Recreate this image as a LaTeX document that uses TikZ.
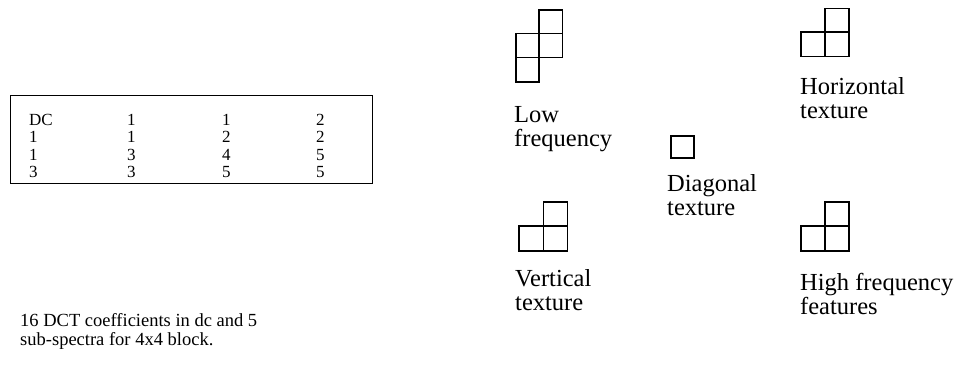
\documentclass[tikz,border=0pt]{standalone}
\usepackage{fontspec}
\setmainfont{Liberation Serif}
\begin{document}
\begin{tikzpicture}[x=1pt,y=-1pt,
  cell/.style={draw=black,line width=1.4pt},
  tbl/.style={anchor=base west,inner sep=0pt,font=\fontsize{17}{17}\selectfont},
  lbl/.style={anchor=north west,inner sep=0pt,align=left,font=\fontsize{24.5}{24.5}\selectfont},
  note/.style={anchor=north west,inner sep=0pt,align=left,font=\fontsize{18.5}{19}\selectfont}]
\useasboundingbox (0,0) rectangle (967,367);
% coefficient table
\node[draw=black,line width=1.2pt,minimum width=362pt,minimum height=88pt,anchor=north west,inner sep=0pt] (box) at (10,95) {};
\foreach \r/\a/\b/\c/\d [count=\i] in {0/DC/1/1/2,1/1/1/2/2,2/1/3/4/5,3/3/3/5/5}{
  \node[tbl] (r\i a) at (29,125+17.5*\r) {\a};
  \node[tbl] (r\i b) at (127,125+17.5*\r) {\b};
  \node[tbl] (r\i c) at (222,125+17.5*\r) {\c};
  \node[tbl] (r\i d) at (316,125+17.5*\r) {\d};
}
\node[note] (cap) at (20,313) {16 DCT coefficients in dc and 5\\sub-spectra for 4x4 block.};
% sub-spectrum patterns
\draw[cell] (539,10) rectangle (562.5,33.5) (516,33.5) rectangle (539,57.5) (539,33.5) rectangle (562.5,57.5) (516,57.5) rectangle (539,82);
\node[lbl] (low) at (514,106) {Low\\frequency};
\draw[cell] (825,8.5) rectangle (849,32) (801,32) rectangle (825,56.5) (825,32) rectangle (849,56.5);
\node[lbl] (hor) at (800,77) {Horizontal\\texture};
\draw[cell] (671,136) rectangle (694,158);
\node[lbl] (diag) at (667,174) {Diagonal\\texture};
\draw[cell] (543.5,202) rectangle (567.5,226) (519,226) rectangle (543.5,251) (543.5,226) rectangle (567.5,251);
\node[lbl] (vert) at (515,269) {Vertical\\texture};
\draw[cell] (825,202) rectangle (849,226) (801,226) rectangle (825,251) (825,226) rectangle (849,251);
\node[lbl] (high) at (800,273) {High frequency\\features};
\end{tikzpicture}
\end{document}
